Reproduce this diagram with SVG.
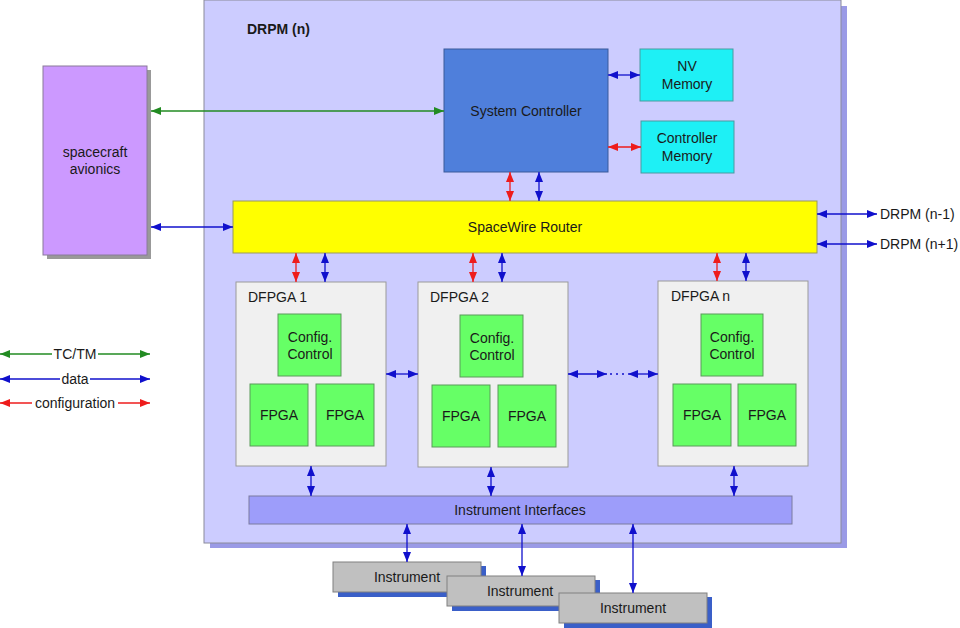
<svg xmlns="http://www.w3.org/2000/svg" width="960" height="628" viewBox="0 0 960 628">
<style>
text{font-family:"Liberation Sans",Arial,sans-serif;font-size:14px;fill:#1a1a1a}
.c{text-anchor:middle}
.g{stroke:#228b22;stroke-width:1.3;fill:none;marker-start:url(#ag);marker-end:url(#ag)}
.b{stroke:#1010cc;stroke-width:1.3;fill:none;marker-start:url(#ab);marker-end:url(#ab)}
.r{stroke:#ee1c1c;stroke-width:1.3;fill:none;marker-start:url(#ar);marker-end:url(#ar)}
.bn{stroke:#1010cc;stroke-width:1.3;fill:none}
.dfpga{fill:#f0f0f0;stroke:#9a9a9a;stroke-width:1}
.grn{fill:#66ff66;stroke:#5a9a5a;stroke-width:1}
.cyan{fill:#1ef0f5;stroke:#4a9aa0;stroke-width:1}
.inst{fill:#c0c0c0;stroke:#808080;stroke-width:1}
.ishadow{fill:#3a5fc8}
</style>
<defs>
<marker id="ag" viewBox="0 0 10 8" refX="10" refY="4" markerWidth="10" markerHeight="8" markerUnits="userSpaceOnUse" orient="auto-start-reverse"><path d="M0,0L10,4L0,8z" fill="#228b22"/></marker>
<marker id="ab" viewBox="0 0 10 8" refX="10" refY="4" markerWidth="10" markerHeight="8" markerUnits="userSpaceOnUse" orient="auto-start-reverse"><path d="M0,0L10,4L0,8z" fill="#1010cc"/></marker>
<marker id="ar" viewBox="0 0 10 8" refX="10" refY="4" markerWidth="10" markerHeight="8" markerUnits="userSpaceOnUse" orient="auto-start-reverse"><path d="M0,0L10,4L0,8z" fill="#ee1c1c"/></marker>
</defs>
<rect width="960" height="628" fill="#ffffff"/>

<g id="drpm">
<rect x="210" y="6" width="637" height="542" fill="#9a9ae6"/>
<rect x="204" y="0" width="637" height="543" fill="#ccccff" stroke="#8a8a9a" stroke-width="1"/>
<text x="247" y="34" style="font-weight:bold">DRPM (n)</text>
</g>

<g id="avionics">
<rect x="47" y="70" width="104" height="189" fill="#999999"/>
<rect x="43" y="66" width="104" height="189" fill="#cc99ff" stroke="#8a7a9a" stroke-width="1"/>
<text class="c" x="95" y="157">spacecraft</text>
<text class="c" x="95" y="174">avionics</text>
</g>

<g id="system-controller">
<rect x="444" y="49" width="164" height="123" fill="#4f7fdb" stroke="#3a5a9a" stroke-width="1"/>
<text class="c" x="526" y="116">System Controller</text>
</g>

<g id="nv-memory">
<rect class="cyan" x="640" y="49" width="93" height="52"/>
<text class="c" x="687" y="71">NV</text>
<text class="c" x="687" y="89">Memory</text>
</g>

<g id="controller-memory">
<rect class="cyan" x="641" y="121" width="93" height="52"/>
<text class="c" x="687" y="143">Controller</text>
<text class="c" x="687" y="161">Memory</text>
</g>

<g id="router">
<rect x="233" y="201" width="584" height="52" fill="#ffff00" stroke="#9a9a5a" stroke-width="1"/>
<text class="c" x="525" y="232">SpaceWire Router</text>
</g>

<g id="dfpga1">
<rect class="dfpga" x="236" y="282" width="150" height="184"/>
<text x="248" y="302">DFPGA 1</text>
<rect class="grn" x="278" y="314" width="63" height="62"/>
<text class="c" x="310" y="342">Config.</text>
<text class="c" x="310" y="359">Control</text>
<rect class="grn" x="250" y="384" width="58" height="62"/>
<text class="c" x="279" y="420">FPGA</text>
<rect class="grn" x="316" y="384" width="58" height="62"/>
<text class="c" x="345" y="420">FPGA</text>
</g>

<g id="dfpga2">
<rect class="dfpga" x="418" y="282" width="150" height="185"/>
<text x="430" y="302">DFPGA 2</text>
<rect class="grn" x="460" y="315" width="63" height="62"/>
<text class="c" x="492" y="343">Config.</text>
<text class="c" x="492" y="360">Control</text>
<rect class="grn" x="432" y="385" width="58" height="62"/>
<text class="c" x="461" y="421">FPGA</text>
<rect class="grn" x="498" y="385" width="58" height="62"/>
<text class="c" x="527" y="421">FPGA</text>
</g>

<g id="dfpgan">
<rect class="dfpga" x="658" y="281" width="150" height="185"/>
<text x="671" y="301">DFPGA n</text>
<rect class="grn" x="701" y="314" width="62" height="62"/>
<text class="c" x="732" y="342">Config.</text>
<text class="c" x="732" y="359">Control</text>
<rect class="grn" x="673" y="384" width="58" height="62"/>
<text class="c" x="702" y="420">FPGA</text>
<rect class="grn" x="738" y="384" width="58" height="62"/>
<text class="c" x="767" y="420">FPGA</text>
</g>

<g id="instrument-interfaces">
<rect x="249" y="496" width="543" height="28" fill="#9d9dfa" stroke="#7a7aa0" stroke-width="1"/>
<text class="c" x="520" y="515">Instrument Interfaces</text>
</g>

<g id="instrument1">
<rect class="ishadow" x="338" y="566" width="148" height="31"/>
<rect class="inst" x="333" y="562" width="148" height="30"/>
<text class="c" x="407" y="582">Instrument</text>
</g>
<g id="instrument2">
<rect class="ishadow" x="452" y="580" width="148" height="31"/>
<rect class="inst" x="447" y="576" width="148" height="30"/>
<text class="c" x="520" y="596">Instrument</text>
</g>
<g id="instrument3">
<rect class="ishadow" x="564" y="597" width="148" height="31"/>
<rect class="inst" x="559" y="593" width="148" height="30"/>
<text class="c" x="633" y="613">Instrument</text>
</g>

<g id="external">
<text x="880" y="219">DRPM (n-1)</text>
<text x="880" y="249">DRPM (n+1)</text>
</g>

<g id="connectors">
<line class="g" x1="151" y1="111" x2="444" y2="111"/>
<line class="b" x1="151" y1="227" x2="233" y2="227"/>
<line class="b" x1="608" y1="75" x2="640" y2="75"/>
<line class="r" x1="608" y1="147" x2="641" y2="147"/>
<line class="r" x1="510" y1="172" x2="510" y2="201"/>
<line class="b" x1="539" y1="172" x2="539" y2="201"/>
<line class="r" x1="296" y1="253" x2="296" y2="282"/>
<line class="b" x1="325" y1="253" x2="325" y2="282"/>
<line class="r" x1="473" y1="253" x2="473" y2="282"/>
<line class="b" x1="502" y1="253" x2="502" y2="282"/>
<line class="r" x1="717" y1="253" x2="717" y2="281"/>
<line class="b" x1="746" y1="253" x2="746" y2="281"/>
<line class="b" x1="386" y1="374" x2="418" y2="374"/>
<line class="b" x1="568" y1="374" x2="607" y2="374"/>
<line class="bn" x1="610" y1="374" x2="625" y2="374" stroke-dasharray="2,4"/>
<line class="b" x1="628" y1="374" x2="658" y2="374"/>
<line class="b" x1="311" y1="466" x2="311" y2="496"/>
<line class="b" x1="491" y1="467" x2="491" y2="496"/>
<line class="b" x1="734" y1="466" x2="734" y2="496"/>
<line class="b" x1="407" y1="524" x2="407" y2="562"/>
<line class="b" x1="522" y1="524" x2="522" y2="576"/>
<line class="b" x1="633" y1="524" x2="633" y2="593"/>
<line class="b" x1="817" y1="214" x2="877" y2="214"/>
<line class="b" x1="817" y1="244" x2="877" y2="244"/>
</g>

<g id="legend">
<line class="g" x1="0" y1="354" x2="150" y2="354"/>
<rect x="52" y="346" width="46" height="16" fill="#ffffff"/>
<text class="c" x="75" y="359">TC/TM</text>
<line class="b" x1="0" y1="379" x2="150" y2="379"/>
<rect x="60" y="371" width="30" height="16" fill="#ffffff"/>
<text class="c" x="75" y="384">data</text>
<line class="r" x1="0" y1="403" x2="150" y2="403"/>
<rect x="32" y="395" width="86" height="16" fill="#ffffff"/>
<text class="c" x="75" y="408">configuration</text>
</g>
</svg>
